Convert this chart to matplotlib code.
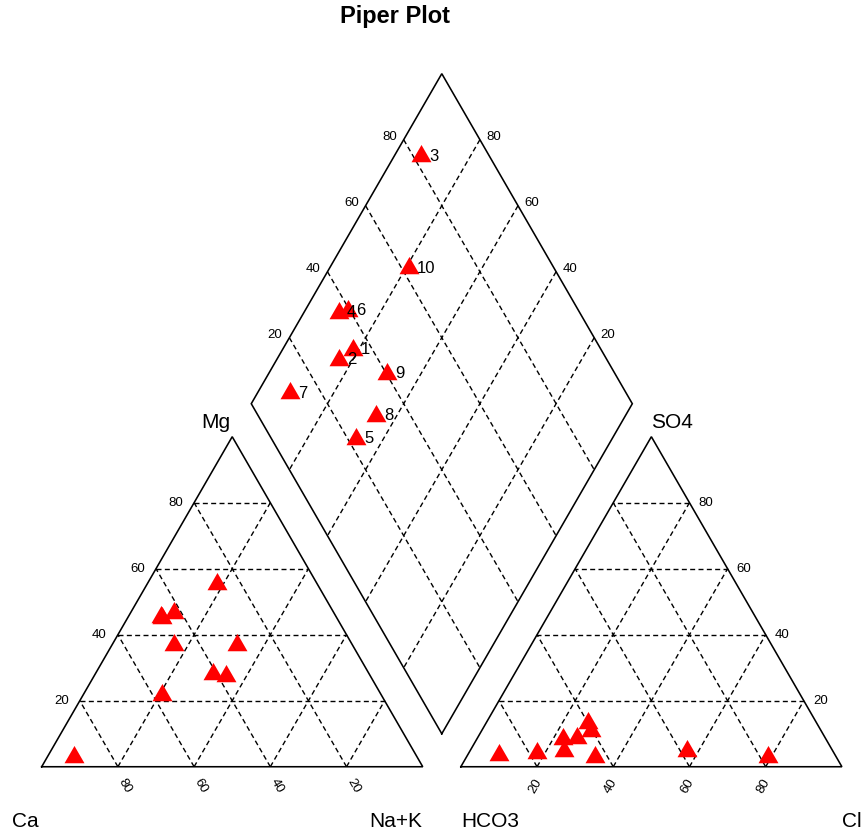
import numpy as np
import matplotlib.pyplot as plt

plt.rcParams['font.family'] = ['Liberation Sans', 'DejaVu Sans']
plt.rcParams['lines.scale_dashes'] = False

# sample data, percent of cations / anions
samples = ['1', '2', '3', '4', '5', '6', '7', '8', '9', '10']
ca = [26.3, 46.8, 90.0, 45.9, 30.4, 41.9, 45.9, 37.9, 41.0, 57.4]
mg = [55.3, 36.9, 3.0, 45.0, 36.9, 46.7, 45.5, 27.5, 28.0, 21.8]
nak = [18.4, 16.3, 7.0, 9.1, 32.7, 11.4, 8.6, 34.6, 31.0, 20.8]
hco3 = [65.2, 70.4, 18.0, 63.3, 77.9, 60.5, 88.3, 69.0, 59.9, 38.2]
so4 = [8.7, 4.9, 3.0, 2.8, 4.1, 10.8, 3.5, 8.3, 13.2, 4.8]
cl = [26.1, 24.7, 79.0, 33.9, 18.0, 28.7, 8.2, 22.7, 26.9, 57.0]

grid_vals = [20, 40, 60, 80]

H = np.sqrt(3) / 2
OFF = 110  # x offset of anion triangle


def cat_xy(n, m):
    return n + m / 2, m * H


def an_xy(c, s):
    return OFF + c + s / 2, s * H


def dia_xy(n, h):
    return (210 - h + n) / 2, (210 - h - n) * H


fig = plt.figure(figsize=(8.64, 8.30), dpi=100)
ax = fig.add_axes([0, 0, 1, 1])
ax.set_xlim(-10.94, 215.8)
ax.set_ylim(-16.6, 201.2)
ax.axis('off')

solid = dict(color='black', lw=1.15, solid_joinstyle='miter')
dash = dict(color='black', lw=1.0, linestyle=(0, (3.6, 2.4)))

# outlines
ax.plot([0, 100, 50, 0], [0, 0, 100 * H, 0], **solid)
ax.plot([OFF, OFF + 100, OFF + 50, OFF], [0, 0, 100 * H, 0], **solid)
d = [dia_xy(100, 100), dia_xy(0, 100), dia_xy(0, 0), dia_xy(100, 0), dia_xy(100, 100)]
ax.plot([p[0] for p in d], [p[1] for p in d], **solid)

tick_fs = 9.5
for v in grid_vals:
    # cation triangle
    ax.plot([v / 2, 100 - v / 2], [v * H, v * H], **dash)
    ax.plot([v, 50 + v / 2], [0, (100 - v) * H], **dash)
    ax.plot([100 - v, (100 - v) / 2], [0, (100 - v) * H], **dash)
    ax.annotate(str(v), (v / 2, v * H), xytext=(-8, 0), textcoords='offset points',
                ha='right', va='center', fontsize=tick_fs)
    ax.annotate(str(100 - v), (v, 0), xytext=(5, -14), textcoords='offset points',
                ha='center', va='center', fontsize=tick_fs, rotation=-60)
    # anion triangle
    ax.plot([OFF + 100 - v / 2, OFF + v / 2], [v * H, v * H], **dash)
    ax.plot([OFF + v, OFF + v + (100 - v) / 2], [0, (100 - v) * H], **dash)
    ax.plot([OFF + 100 - v, OFF + (100 - v) / 2], [0, (100 - v) * H], **dash)
    ax.annotate(str(v), (OFF + 100 - v / 2, v * H), xytext=(6.5, 0), textcoords='offset points',
                ha='left', va='center', fontsize=tick_fs)
    ax.annotate(str(v), (OFF + v, 0), xytext=(-1.5, -14), textcoords='offset points',
                ha='center', va='center', fontsize=tick_fs, rotation=60)
    # diamond
    p0, p1 = dia_xy(0, 100 - v), dia_xy(100, 100 - v)
    ax.plot([p0[0], p1[0]], [p0[1], p1[1]], **dash)
    ax.annotate(str(v), p0, xytext=(-5, 2), textcoords='offset points',
                ha='right', va='center', fontsize=tick_fs)
    p0, p1 = dia_xy(100 - v, 0), dia_xy(100 - v, 100)
    ax.plot([p0[0], p1[0]], [p0[1], p1[1]], **dash)
    ax.annotate(str(v), p0, xytext=(4.5, 2), textcoords='offset points',
                ha='left', va='center', fontsize=tick_fs)

# corner labels
lab_fs = 15
ax.text(-7.8, -15.8, 'Ca', ha='left', va='baseline', fontsize=lab_fs)
ax.text(100, -15.8, 'Na+K', ha='right', va='baseline', fontsize=lab_fs)
ax.text(OFF, -15.8, 'HCO3', ha='left', va='baseline', fontsize=lab_fs)
ax.text(OFF + 100, -15.8, 'Cl', ha='left', va='baseline', fontsize=lab_fs)
ax.text(49.4, 88.8, 'Mg', ha='right', va='baseline', fontsize=lab_fs)
ax.text(OFF + 50, 88.8, 'SO4', ha='left', va='baseline', fontsize=lab_fs)

# points
tri = [(0, 1), (-0.866, -0.5), (0.866, -0.5)]
mk = dict(marker=tri, markersize=16.6, color='red', markeredgewidth=0, linestyle='none')
cx, cy = cat_xy(np.array(nak), np.array(mg))
ax.plot(cx, cy, **mk)
axx, axy = an_xy(np.array(cl), np.array(so4))
ax.plot(axx, axy, **mk)
dx, dy = dia_xy(np.array(nak), np.array(hco3))
ax.plot(dx, dy, **mk)
for i, s in enumerate(samples):
    ax.annotate(s, (dx[i], dy[i]), xytext=(6, 0), textcoords='offset points',
                ha='left', va='center', fontsize=12)

fig.text(395 / 864, 1 - 17 / 830, 'Piper Plot', ha='center', va='center',
         fontweight='bold', fontsize=17)

fig.savefig('out.png', dpi=100)
